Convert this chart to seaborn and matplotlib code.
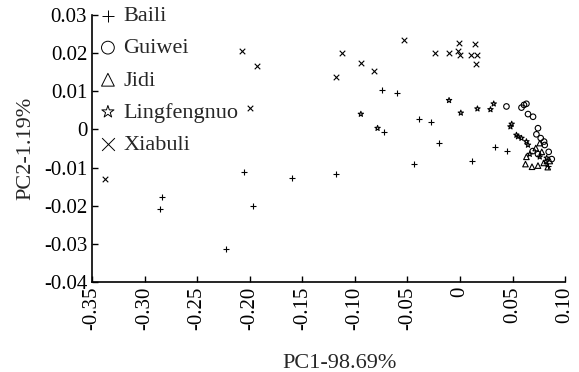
import pandas as pd
import matplotlib
matplotlib.use("Agg")
import matplotlib.pyplot as plt
import seaborn as sns

# PCA scores
baili_x = [-0.2052, -0.1596, -0.1181, -0.2837, -0.2854, -0.1967, -0.2229, -0.0740, -0.0598,
           -0.0392, -0.0275, -0.0721, -0.0199, -0.0439, 0.0115, 0.0337, 0.0452, 0.0835]
baili_y = [-0.0112, -0.0128, -0.0118, -0.0176, -0.0209, -0.0200, -0.0314, 0.0103, 0.0096,
           0.0028, 0.0018, -0.0008, -0.0036, -0.0091, -0.0084, -0.0047, -0.0057, -0.0096]

guiwei_x = [0.0442, 0.0585, 0.0609, 0.0632, 0.0647, 0.0695, 0.0742, 0.0727, 0.0768, 0.0800,
            0.0742, 0.0806, 0.0844, 0.0873, 0.0692]
guiwei_y = [0.0060, 0.0057, 0.0064, 0.0067, 0.0040, 0.0033, 0.0003, -0.0013, -0.0023, -0.0032,
            -0.0065, -0.0041, -0.0059, -0.0078, -0.0057]

jidi_x = [0.0623, 0.0685, 0.0742, 0.0759, 0.0632, 0.0797, 0.0835, 0.0854, 0.0721, 0.0778]
jidi_y = [-0.0091, -0.0098, -0.0095, -0.0036, -0.0072, -0.0088, -0.0099, -0.0083, -0.0049, -0.0059]

lingfengnuo_x = [-0.0943, -0.0784, -0.0104, 0.0008, 0.0166, 0.0290, 0.0321, 0.0480, 0.0492,
                 0.0537, 0.0552, 0.0585, 0.0632, 0.0647, 0.0664, 0.0759, 0.0825, 0.0816]
lingfengnuo_y = [0.0040, 0.0003, 0.0076, 0.0043, 0.0054, 0.0052, 0.0067, 0.0007, 0.0014,
                 -0.0015, -0.0019, -0.0023, -0.0032, -0.0041, -0.0065, -0.0072, -0.0075, -0.0085]

xiabuli_x = [-0.3376, -0.2074, -0.1934, -0.1998, -0.1126, -0.0531, -0.0943, -0.0817, -0.1183,
             -0.0240, -0.0100, -0.0005, -0.0002, -0.0021, 0.0141, 0.0103, 0.0166, 0.0153]
xiabuli_y = [-0.0130, 0.0206, 0.0166, 0.0056, 0.0199, 0.0233, 0.0174, 0.0153, 0.0137,
             0.0200, 0.0201, 0.0226, 0.0196, 0.0206, 0.0224, 0.0194, 0.0196, 0.0172]

groups = ["Baili", "Guiwei", "Jidi", "Lingfengnuo", "Xiabuli"]
xticks = [-0.35, -0.30, -0.25, -0.20, -0.15, -0.10, -0.05, 0.0, 0.05, 0.10]
xtick_labels = ["-0.35", "-0.30", "-0.25", "-0.20", "-0.15", "-0.10", "-0.05", "0", "0.05", "0.10"]
yticks = [-0.04, -0.03, -0.02, -0.01, 0.0, 0.01, 0.02, 0.03]
ytick_labels = ["-0.04", "-0.03", "-0.02", "-0.01", "0", "0.01", "0.02", "0.03"]

frames = []
for name, xs, ys in [("Baili", baili_x, baili_y), ("Guiwei", guiwei_x, guiwei_y),
                     ("Jidi", jidi_x, jidi_y), ("Lingfengnuo", lingfengnuo_x, lingfengnuo_y),
                     ("Xiabuli", xiabuli_x, xiabuli_y)]:
    frames.append(pd.DataFrame({"PC1": xs, "PC2": ys, "group": name}))
df = pd.concat(frames, ignore_index=True)

sns.set_style("ticks")
plt.rcParams["font.family"] = ["Liberation Serif", "DejaVu Serif"]

markers = {"Baili": "+", "Guiwei": "o", "Jidi": "^", "Lingfengnuo": "*", "Xiabuli": "x"}

fig = plt.figure(figsize=(5.79, 3.72), dpi=100)
ax = fig.add_axes([0.159, 0.242, 0.817, 0.718])

for g in groups:
    sub = df[df["group"] == g]
    m = markers[g]
    if m in ("+", "x"):
        sns.scatterplot(data=sub, x="PC1", y="PC2", marker=m, color="black", s=16,
                        linewidth=0.8, label=g, ax=ax)
    else:
        sns.scatterplot(data=sub, x="PC1", y="PC2", marker=m, color="black", s=16,
                        facecolor="none", edgecolor="black", linewidth=0.8, label=g, ax=ax)

ax.set_xlim(-0.35, 0.10)
ax.set_ylim(-0.04, 0.03)
ax.set_xticks(xticks)
ax.set_xticklabels(xtick_labels, rotation=90)
ax.set_yticks(yticks)
ax.set_yticklabels(ytick_labels)
ax.tick_params(direction="in", length=4, width=1, labelsize=15, colors="black")
sns.despine(ax=ax)
for s in ["left", "bottom"]:
    ax.spines[s].set_linewidth(1.2)
    ax.spines[s].set_color("black")

ax.set_xlabel("PC1-98.69%", fontsize=16)
ax.xaxis.set_label_coords(0.524, -0.27)
ax.set_ylabel("PC2-1.19%", fontsize=16, labelpad=6)

leg = ax.legend(loc="upper left", bbox_to_anchor=(0.01, 1.034), frameon=False, fontsize=16,
                markerscale=2.3, handlelength=1.0, handletextpad=0.2, borderpad=0,
                borderaxespad=0, labelspacing=0.52)
for h in leg.legend_handles:
    h.set_linewidth(0.7)

fig.savefig("out.png", dpi=100)
